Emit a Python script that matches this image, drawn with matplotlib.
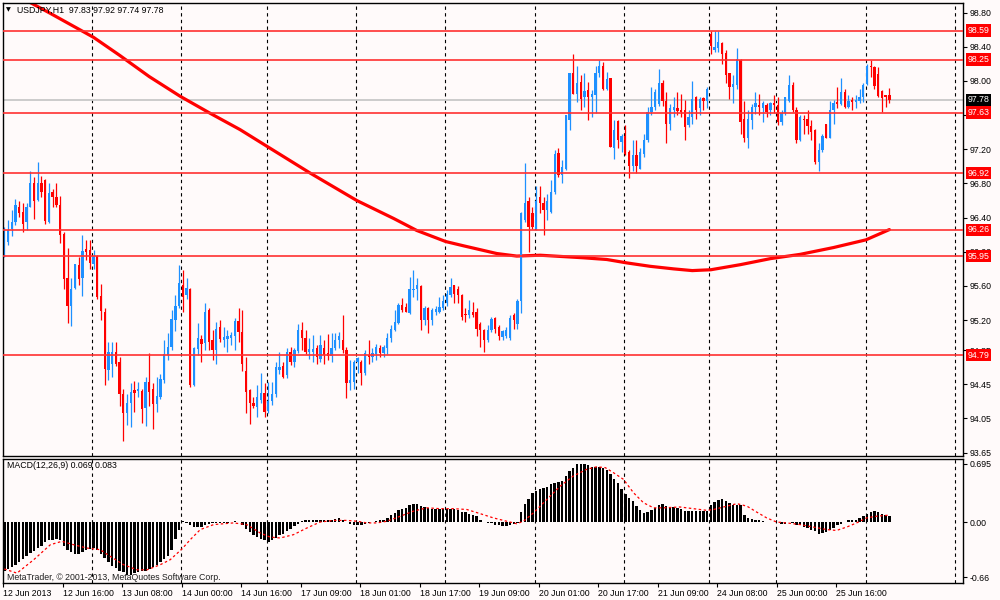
import matplotlib
matplotlib.use("Agg")
import matplotlib.pyplot as plt

plt.rcParams['font.family'] = ['Liberation Sans', 'DejaVu Sans']

BG = "#FFFAFA"
BULL = "#1E90FF"
BEAR = "#FF0000"
FS = 6.3

# USDJPY H1, one entry per bar (bar 0 = 12 Jun 2013 00:00)
opens = [
    96.04, 96.12, 96.27, 96.35, 96.53, 96.46, 96.35, 96.53, 96.81, 96.61,
    96.80, 96.84, 96.35, 96.70, 96.64, 96.55, 96.21, 95.69, 95.36, 95.58,
    95.84, 95.69, 96.03, 96.02, 95.86, 95.95, 95.48, 95.30, 94.62, 94.69,
    94.83, 94.71, 94.34, 94.11, 94.23, 94.38, 94.37, 94.37, 94.17, 94.48,
    94.39, 94.22, 94.30, 94.50, 94.79, 94.89, 95.20, 95.37, 95.61, 95.49,
    95.57, 94.44, 94.86, 94.98, 94.93, 95.32, 94.97, 94.85, 95.12, 94.97,
    94.98, 94.99, 95.01, 95.19, 95.06, 94.60, 94.38, 94.23, 94.18, 94.27,
    94.35, 94.14, 94.25, 94.34, 94.62, 94.66, 94.56, 94.83, 94.71, 94.84,
    95.08, 94.99, 94.83, 94.83, 94.87, 94.74, 94.87, 94.81, 94.78, 94.87,
    94.97, 94.97, 94.85, 94.46, 94.48, 94.71, 94.71, 94.58, 94.79, 94.77,
    94.80, 94.87, 94.81, 94.87, 94.99, 95.09, 95.17, 95.38, 95.35, 95.28,
    95.55, 95.56, 95.60, 95.20, 95.34, 95.20, 95.30, 95.30, 95.34, 95.40,
    95.50, 95.61, 95.57, 95.49, 95.27, 95.26, 95.30, 95.30, 95.16, 95.08,
    94.97, 95.08, 95.22, 95.12, 95.00, 95.01, 94.99, 95.26, 95.16, 95.43,
    96.37, 96.60, 96.45, 96.27, 96.64, 96.57, 96.49, 96.47, 96.70, 97.16,
    96.90, 96.97, 97.54, 98.09, 97.85, 97.99, 97.81, 97.89, 97.81, 97.83,
    98.09, 98.18, 97.91, 98.04, 97.22, 97.53, 97.29, 97.35, 97.17, 97.00,
    97.13, 96.97, 97.15, 97.31, 97.64, 97.70, 97.73, 97.97, 97.77, 97.50,
    97.66, 97.68, 97.66, 97.66, 97.48, 97.58, 97.81, 97.68, 97.80, 97.77,
    98.55, 98.36, 98.38, 98.44, 98.33, 98.09, 97.93, 97.95, 98.25, 97.56,
    97.33, 97.54, 97.69, 97.72, 97.68, 97.72, 97.66, 97.74, 97.72, 97.52,
    97.62, 97.77, 97.95, 97.66, 97.31, 97.56, 97.56, 97.47, 97.42, 97.05,
    97.19, 97.49, 97.33, 97.66, 97.75, 97.73, 97.87, 97.69, 97.78, 97.75,
    97.77, 97.81, 97.96, 98.17, 98.16, 98.08, 97.88, 97.83, 97.83,
]
highs = [
    96.29, 96.37, 96.49, 96.62, 96.60, 96.57, 96.57, 96.94, 96.88, 97.05,
    96.89, 96.85, 96.80, 96.73, 96.81, 96.65, 96.23, 96.05, 95.69, 95.86,
    95.94, 96.20, 96.14, 96.14, 96.02, 95.96, 95.62, 95.34, 94.94, 94.95,
    94.94, 94.77, 94.40, 94.34, 94.47, 94.49, 94.48, 94.40, 94.53, 94.81,
    94.46, 94.54, 94.57, 94.97, 95.05, 95.32, 95.49, 95.84, 95.79, 95.69,
    95.58, 94.89, 95.17, 95.03, 95.40, 95.34, 95.08, 95.18, 95.20, 95.12,
    95.08, 95.06, 95.22, 95.34, 95.32, 94.77, 94.40, 94.30, 94.44, 94.58,
    94.46, 94.48, 94.48, 94.71, 94.83, 94.71, 94.87, 94.89, 94.87, 95.15,
    95.18, 95.08, 94.99, 95.03, 94.91, 95.03, 94.97, 95.04, 95.05, 95.05,
    95.06, 95.26, 94.89, 94.73, 94.73, 94.77, 94.73, 94.85, 94.97, 94.87,
    94.92, 94.91, 94.91, 95.05, 95.14, 95.32, 95.40, 95.46, 95.40, 95.71,
    95.79, 95.69, 95.61, 95.36, 95.35, 95.34, 95.36, 95.47, 95.49, 95.55,
    95.69, 95.61, 95.60, 95.51, 95.34, 95.44, 95.41, 95.34, 95.18, 95.10,
    95.14, 95.24, 95.24, 95.14, 95.08, 95.12, 95.26, 95.28, 95.45, 96.47,
    97.04, 96.64, 96.53, 96.77, 96.77, 96.64, 96.68, 96.84, 97.19, 97.21,
    97.07, 97.60, 98.09, 98.32, 98.18, 98.07, 98.09, 97.99, 97.89, 98.18,
    98.24, 98.22, 98.11, 98.04, 97.54, 97.54, 97.38, 97.48, 97.19, 97.31,
    97.31, 97.21, 97.38, 97.70, 97.93, 97.91, 98.14, 98.01, 97.87, 97.73,
    97.81, 97.87, 97.85, 97.78, 97.66, 98.00, 97.82, 97.81, 97.81, 97.93,
    98.59, 98.59, 98.59, 98.46, 98.36, 98.09, 98.07, 98.38, 98.26, 97.77,
    97.66, 97.73, 97.87, 97.85, 97.77, 97.74, 97.75, 97.83, 97.81, 97.66,
    97.81, 98.07, 97.99, 97.69, 97.60, 97.60, 97.66, 97.54, 97.44, 97.27,
    97.38, 97.50, 97.77, 97.78, 97.93, 98.03, 97.90, 97.83, 97.81, 97.83,
    97.91, 97.97, 98.20, 98.25, 98.17, 98.16, 97.89, 97.84, 97.92,
]
lows = [
    95.94, 96.08, 96.18, 96.31, 96.41, 96.23, 96.25, 96.53, 96.38, 96.60,
    96.64, 96.33, 96.34, 96.53, 96.53, 96.10, 95.56, 95.17, 95.13, 95.56,
    95.61, 95.48, 95.90, 95.80, 95.80, 95.45, 95.20, 94.44, 94.50, 94.54,
    94.66, 94.20, 93.79, 93.97, 93.95, 94.13, 94.30, 94.00, 93.96, 94.19,
    93.93, 94.12, 94.28, 94.46, 94.73, 94.85, 95.07, 95.34, 95.30, 95.45,
    94.42, 94.43, 94.79, 94.71, 94.85, 94.85, 94.73, 94.69, 94.95, 94.89,
    94.83, 94.91, 94.85, 94.95, 94.60, 94.11, 93.99, 94.17, 94.07, 94.23,
    94.07, 94.11, 94.21, 94.30, 94.57, 94.52, 94.52, 94.67, 94.65, 94.81,
    94.85, 94.80, 94.75, 94.71, 94.69, 94.71, 94.69, 94.73, 94.71, 94.85,
    94.87, 94.81, 94.29, 94.38, 94.40, 94.58, 94.44, 94.56, 94.69, 94.71,
    94.73, 94.77, 94.77, 94.80, 94.95, 95.07, 95.15, 95.30, 95.30, 95.27,
    95.47, 95.44, 95.09, 95.14, 95.05, 95.14, 95.26, 95.28, 95.32, 95.36,
    95.47, 95.40, 95.40, 95.20, 95.18, 95.22, 95.24, 95.01, 94.89, 94.83,
    94.95, 95.06, 95.05, 94.97, 94.97, 94.99, 94.97, 95.10, 95.10, 95.28,
    96.35, 96.00, 96.27, 96.25, 96.45, 96.20, 96.37, 96.45, 96.68, 96.88,
    96.81, 96.96, 97.43, 97.85, 97.75, 97.66, 97.70, 97.54, 97.58, 97.62,
    98.05, 97.89, 97.89, 97.23, 97.09, 97.21, 97.17, 97.13, 96.86, 96.94,
    96.92, 96.97, 97.11, 97.29, 97.60, 97.66, 97.71, 97.71, 97.27, 97.42,
    97.58, 97.60, 97.58, 97.31, 97.46, 97.50, 97.56, 97.60, 97.66, 97.68,
    98.32, 98.34, 98.34, 98.20, 97.97, 97.79, 97.74, 97.91, 97.38, 97.29,
    97.21, 97.44, 97.61, 97.60, 97.52, 97.58, 97.60, 97.62, 97.48, 97.48,
    97.60, 97.75, 97.64, 97.27, 97.30, 97.38, 97.38, 97.31, 97.03, 96.95,
    97.17, 97.33, 97.33, 97.50, 97.68, 97.72, 97.68, 97.68, 97.66, 97.68,
    97.74, 97.75, 97.95, 98.05, 97.91, 97.81, 97.64, 97.70, 97.74,
]
closes = [
    96.25, 96.25, 96.35, 96.55, 96.45, 96.32, 96.53, 96.81, 96.60, 96.81,
    96.70, 96.36, 96.69, 96.64, 96.55, 96.20, 95.68, 95.36, 95.56, 95.86,
    95.68, 96.01, 96.00, 95.87, 95.95, 95.47, 95.31, 94.63, 94.83, 94.83,
    94.69, 94.34, 94.11, 94.23, 94.36, 94.35, 94.39, 94.16, 94.48, 94.36,
    94.22, 94.31, 94.51, 94.80, 94.89, 95.21, 95.37, 95.63, 95.47, 95.58,
    94.44, 94.87, 94.99, 94.92, 95.29, 94.94, 94.85, 95.10, 94.98, 95.00,
    95.01, 95.03, 95.19, 95.06, 94.69, 94.36, 94.23, 94.20, 94.30, 94.35,
    94.13, 94.25, 94.34, 94.65, 94.65, 94.54, 94.83, 94.71, 94.85, 95.08,
    94.99, 94.83, 94.86, 94.86, 94.77, 94.91, 94.79, 94.78, 94.87, 94.97,
    95.01, 94.85, 94.46, 94.50, 94.71, 94.76, 94.58, 94.81, 94.77, 94.81,
    94.89, 94.81, 94.89, 94.99, 95.10, 95.18, 95.38, 95.32, 95.30, 95.56,
    95.57, 95.61, 95.20, 95.34, 95.20, 95.32, 95.33, 95.35, 95.42, 95.51,
    95.59, 95.51, 95.49, 95.24, 95.26, 95.32, 95.26, 95.10, 95.08, 94.97,
    95.08, 95.21, 95.10, 95.01, 95.07, 95.09, 95.22, 95.20, 95.43, 96.45,
    96.57, 96.29, 96.29, 96.60, 96.57, 96.49, 96.59, 96.70, 97.15, 96.90,
    96.99, 97.60, 98.09, 97.85, 97.97, 97.79, 97.88, 97.81, 97.85, 98.09,
    98.18, 97.91, 98.02, 97.23, 97.43, 97.31, 97.35, 97.15, 97.01, 97.13,
    97.01, 97.17, 97.31, 97.64, 97.70, 97.87, 97.97, 97.77, 97.50, 97.68,
    97.70, 97.65, 97.64, 97.46, 97.58, 97.79, 97.66, 97.79, 97.77, 97.91,
    98.41, 98.40, 98.46, 98.32, 98.07, 97.93, 97.96, 98.26, 97.52, 97.33,
    97.56, 97.70, 97.74, 97.69, 97.74, 97.64, 97.74, 97.72, 97.52, 97.62,
    97.81, 97.95, 97.66, 97.31, 97.58, 97.54, 97.47, 97.40, 97.05, 97.19,
    97.36, 97.33, 97.66, 97.74, 97.73, 97.87, 97.69, 97.76, 97.75, 97.78,
    97.81, 97.95, 98.17, 98.16, 97.94, 97.82, 97.80, 97.81, 97.78,
]

# moving average, read at a number of bars
ma_bars = [6, 12.4, 24, 31, 39, 47.3, 55.4, 63.4, 70.8, 82.3, 94.8, 104.7,
           110.9, 118.7, 123.5, 132.4, 137.8, 144.1, 155.7, 162, 167.4,
           173.7, 180, 185, 190, 198, 206, 214, 223, 231.7, 238]
ma_vals = [98.94, 98.79, 98.51, 98.30, 98.05, 97.82, 97.62, 97.43, 97.23,
           96.92, 96.60, 96.39, 96.25, 96.12, 96.07, 95.98, 95.95, 95.96,
           95.93, 95.91, 95.87, 95.83, 95.80, 95.78, 95.79, 95.85, 95.92,
           95.97, 96.05, 96.14, 96.26]

# MACD(12,26,9) main line, one value per bar
macd_hist = [
    -0.58, -0.56, -0.54, -0.51, -0.48, -0.44, -0.41, -0.37, -0.34, -0.31,
    -0.28, -0.24, -0.22, -0.21, -0.20, -0.22, -0.28, -0.33, -0.36, -0.38,
    -0.38, -0.36, -0.33, -0.32, -0.31, -0.33, -0.38, -0.43, -0.48, -0.52,
    -0.55, -0.58, -0.60, -0.63, -0.63, -0.61, -0.60, -0.59, -0.58, -0.56,
    -0.54, -0.51, -0.48, -0.44, -0.40, -0.33, -0.20, -0.09, 0.01, -0.01,
    -0.04, -0.06, -0.06, -0.06, -0.03, -0.02, -0.01, -0.01, -0.01, -0.01,
    -0.01, 0.00, 0.01, 0.00, -0.03, -0.08, -0.12, -0.16, -0.18, -0.20,
    -0.22, -0.24, -0.22, -0.19, -0.16, -0.14, -0.11, -0.08, -0.05, -0.02,
    0.01, 0.02, 0.02, 0.02, 0.02, 0.03, 0.03, 0.02, 0.02, 0.04,
    0.05, 0.02, 0.00, -0.02, -0.03, -0.04, -0.03, -0.02, -0.01, 0.00,
    0.01, 0.02, 0.03, 0.05, 0.08, 0.11, 0.14, 0.16, 0.17, 0.20,
    0.22, 0.22, 0.19, 0.18, 0.17, 0.16, 0.16, 0.16, 0.16, 0.16,
    0.16, 0.16, 0.14, 0.12, 0.12, 0.10, 0.08, 0.07, 0.03, 0.00,
    -0.01, -0.01, -0.03, -0.04, -0.05, -0.05, -0.03, -0.02, -0.01, 0.12,
    0.21, 0.27, 0.35, 0.37, 0.39, 0.41, 0.42, 0.45, 0.47, 0.48,
    0.49, 0.55, 0.61, 0.65, 0.69, 0.695, 0.69, 0.68, 0.66, 0.66,
    0.66, 0.65, 0.62, 0.57, 0.52, 0.47, 0.40, 0.34, 0.29, 0.25,
    0.19, 0.15, 0.11, 0.12, 0.15, 0.17, 0.20, 0.21, 0.19, 0.18,
    0.18, 0.17, 0.16, 0.13, 0.13, 0.13, 0.13, 0.13, 0.13, 0.13,
    0.20, 0.24, 0.26, 0.28, 0.25, 0.23, 0.20, 0.20, 0.20, 0.09,
    0.05, 0.04, 0.03, 0.02, 0.01, 0.00, 0.00, 0.00, 0.00, -0.02,
    -0.02, 0.00, -0.01, -0.03, -0.04, -0.06, -0.07, -0.09, -0.11, -0.14,
    -0.13, -0.12, -0.09, -0.07, -0.04, -0.02, 0.00, 0.02, 0.02, 0.03,
    0.05, 0.07, 0.10, 0.12, 0.13, 0.12, 0.10, 0.09, 0.069,
]

# signal line, read at a number of bars
signal_bars = [0, 3.4, 7.9, 12.4, 15.5, 18.6, 22.2, 25.8, 28.5, 32.1, 35.7,
               38.4, 41.9, 44.6, 47.8, 50, 52.7, 56.3, 61.6, 65.2, 68.8, 71.5,
               74.2, 77.8, 81.4, 84.9, 88.5, 92.1, 94.8, 97.5, 100.2, 102.9,
               106.5, 110, 113.6, 117.2, 120.8, 124.4, 128, 131.5, 135.1,
               137.8, 139.6, 142.3, 145.9, 149.5, 153, 156.6, 159.3, 161.6,
               163.8, 166.5, 169.2, 171.9, 174.6, 177.2, 181.7, 185.3, 188.9,
               190.7, 194.3, 197, 199.7, 202.3, 205, 207.7, 210.4, 214, 217.6,
               221.2, 223.8, 226.5, 229.2, 231.9, 234.6, 238]
signal_vals = [-0.56, -0.61, -0.45, -0.27, -0.23, -0.27, -0.31, -0.33, -0.41,
               -0.51, -0.57, -0.57, -0.51, -0.45, -0.32, -0.21, -0.09, -0.03,
               -0.01, -0.03, -0.13, -0.18, -0.19, -0.15, -0.07, 0.00, 0.02,
               0.02, 0.01, -0.01, -0.01, 0.01, 0.07, 0.13, 0.17, 0.16, 0.16,
               0.15, 0.10, 0.05, 0.01, -0.02, 0.01, 0.11, 0.27, 0.43, 0.55,
               0.63, 0.66, 0.65, 0.59, 0.51, 0.35, 0.23, 0.17, 0.17, 0.18,
               0.16, 0.14, 0.15, 0.19, 0.22, 0.19, 0.12, 0.05, 0.00, -0.01,
               -0.03, -0.06, -0.09, -0.10, -0.06, -0.01, 0.05, 0.07, 0.083]

level_prices = [98.59, 98.25, 97.63, 96.92, 96.26, 95.95, 94.79]
bid_price = 97.78
price_ticks = [98.80, 98.40, 98.00, 97.60, 97.20, 96.80, 96.40, 96.00,
               95.60, 95.20, 94.85, 94.45, 94.05, 93.65]
macd_ticks = [0.695, 0.0, -0.66]
macd_tick_labels = ["0.695", "0.00", "-0.66"]
time_labels = ["12 Jun 2013", "12 Jun 16:00", "13 Jun 08:00", "14 Jun 00:00",
               "14 Jun 16:00", "17 Jun 09:00", "18 Jun 01:00", "18 Jun 17:00",
               "19 Jun 09:00", "20 Jun 01:00", "20 Jun 17:00", "21 Jun 09:00",
               "24 Jun 08:00", "25 Jun 00:00", "25 Jun 16:00"]
day_starts = [24, 48, 71, 95, 119, 143, 167, 190, 208, 232, 256]


fig = plt.figure(figsize=(10, 6), dpi=100, facecolor=BG)
ax = fig.add_axes([0.003, 0.24, 0.960, 0.755], facecolor=BG)
axm = fig.add_axes([0.003, 0.0283, 0.960, 0.2075], facecolor=BG, sharex=ax)

n = len(closes)
xs = list(range(n))
colors = [BULL if closes[i] >= opens[i] else BEAR for i in xs]
bottoms = [min(opens[i], closes[i]) for i in xs]
heights = [max(abs(closes[i] - opens[i]), 0.012) for i in xs]

ax.vlines(xs, lows, highs, colors=colors, lw=0.9, zorder=2)
ax.bar(xs, heights, bottom=bottoms, width=0.62, color=colors, lw=0, zorder=2.1)
ax.plot(ma_bars, ma_vals, color="#FF0000", lw=2.3, solid_capstyle="round",
        solid_joinstyle="round", zorder=1.5)

for p in level_prices:
    ax.axhline(p, color="#FF3030", lw=1.2, zorder=3)
ax.axhline(bid_price, color="#C8C8C8", lw=1.3, zorder=1)

for a in (ax, axm):
    for d in day_starts:
        a.axvline(d - 0.4, color="black", lw=0.8, ls=(0, (3, 3)), zorder=0.5)
    for s in a.spines.values():
        s.set_color("black")
        s.set_linewidth(1.0)

ax.set_xlim(-0.35, 257.8)
ax.set_ylim(93.61, 98.912)
ax.yaxis.tick_right()
ax.set_yticks(price_ticks)
ax.set_yticklabels(["%.2f" % v for v in price_ticks])
ax.tick_params(axis="y", direction="out", length=3, width=0.8, pad=2,
               labelsize=FS, colors="black")
ax.tick_params(axis="x", length=0, labelbottom=False)

# price tags on the right scale (they sit over the regular tick labels)
for p in level_prices:
    ax.text(1.0045, p, "%.2f" % p, transform=ax.get_yaxis_transform(),
            ha="left", va="center", color="white", fontsize=FS,
            bbox=dict(boxstyle="square,pad=0.18", fc="#FF0000", ec="none"),
            clip_on=False, zorder=10)
ax.text(1.0045, bid_price, "%.2f" % bid_price,
        transform=ax.get_yaxis_transform(), ha="left", va="center",
        color="white", fontsize=FS,
        bbox=dict(boxstyle="square,pad=0.18", fc="black", ec="none"),
        clip_on=False, zorder=10)

# MACD pane
axm.bar(xs, macd_hist, width=0.65, color="black", lw=0, zorder=2)
axm.plot(signal_bars, signal_vals, color="#FF0000", lw=0.9,
         ls=(0, (2, 2)), zorder=3)
axm.set_ylim(-0.728, 0.759)
axm.yaxis.tick_right()
axm.set_yticks(macd_ticks)
axm.set_yticklabels(macd_tick_labels)
axm.tick_params(axis="y", direction="out", length=3, width=0.8, pad=2,
                labelsize=FS, colors="black")
tick_pos = [16 * k - 0.35 for k in range(len(time_labels))]
axm.set_xticks(tick_pos)
axm.set_xticklabels(time_labels)
axm.tick_params(axis="x", direction="out", length=3, width=0.8, pad=1,
                labelsize=FS, colors="black")
for lab in axm.get_xticklabels():
    lab.set_ha("left")

fig.text(0.008, 1 - 10 / 600, "\u25bc", fontsize=4.5, va="center",
         ha="center", family=["DejaVu Sans"])
fig.text(0.017, 1 - 10 / 600, "USDJPY,H1  97.83 97.92 97.74 97.78",
         fontsize=FS, va="center", ha="left")
fig.text(0.007, 1 - 466 / 600, "MACD(12,26,9) 0.069 0.083",
         fontsize=FS, va="center", ha="left")
fig.text(0.007, 1 - 577 / 600,
         "MetaTrader, \u00a9 2001-2013, MetaQuotes Software Corp.",
         fontsize=FS, va="center", ha="left", color="#202020", zorder=10)

fig.savefig("out.png", dpi=100, facecolor=BG)
